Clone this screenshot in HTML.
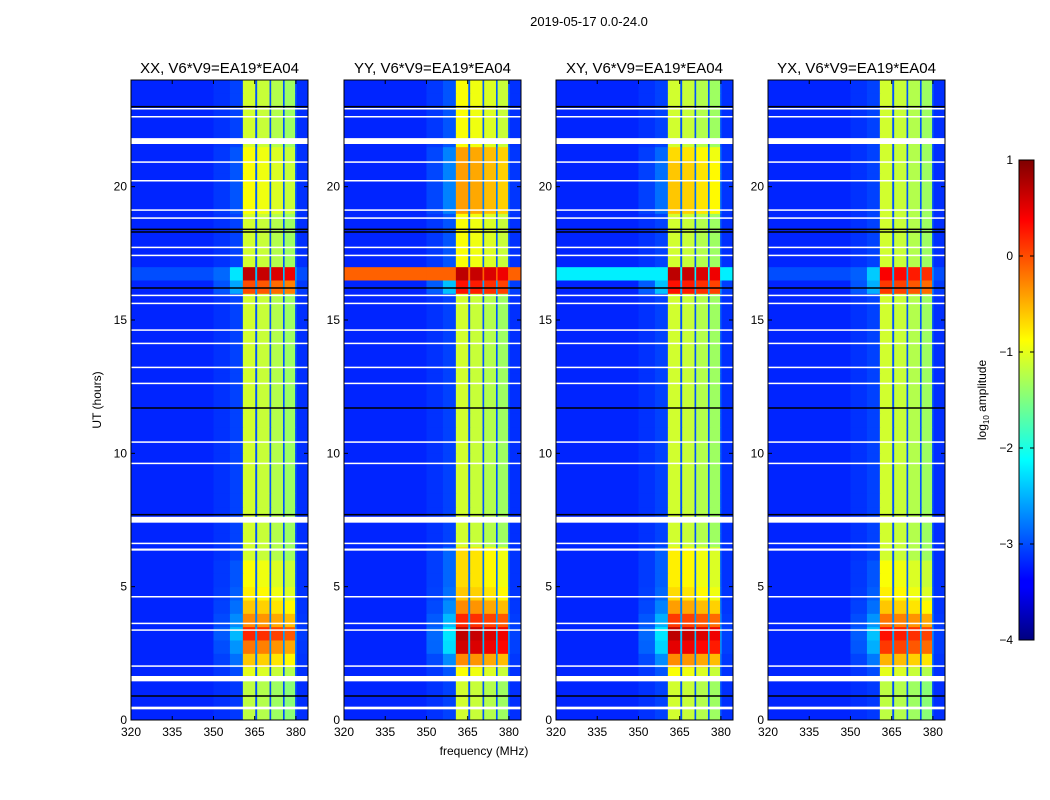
<!DOCTYPE html>
<html><head><meta charset="utf-8"><style>
body{margin:0;background:#fff;}
svg{display:block;font-family:"Liberation Sans","DejaVu Sans",sans-serif;}
</style></head><body>
<svg id="chart" width="1050" height="800" viewBox="0 0 1050 800">
<defs>
<linearGradient id="jet" x1="0" y1="1" x2="0" y2="0">
<stop offset="0" stop-color="#00007f"/><stop offset="0.11" stop-color="#0000ff"/>
<stop offset="0.125" stop-color="#0000ff"/><stop offset="0.375" stop-color="#00ffff"/>
<stop offset="0.5" stop-color="#80ff80"/><stop offset="0.625" stop-color="#ffff00"/>
<stop offset="0.875" stop-color="#ff0000"/><stop offset="1" stop-color="#7f0000"/>
</linearGradient>
</defs>
<text x="589" y="26" font-size="13" text-anchor="middle">2019-05-17 0.0-24.0</text>
<text x="484" y="755" font-size="12" text-anchor="middle">frequency (MHz)</text>
<text transform="translate(101,400) rotate(-90)" font-size="12" text-anchor="middle">UT (hours)</text>
</svg>
<script>
const panelTitles = ["XX, V6*V9=EA19*EA04","YY, V6*V9=EA19*EA04","XY, V6*V9=EA19*EA04","YX, V6*V9=EA19*EA04"];
const panelLeft = [131, 344, 556, 768];
const xTicks = [320, 335, 350, 365, 380];
const yTicks = [0, 5, 10, 15, 20];
const cbTicks = [1, 0, -1, -2, -3, -4];
// frequency segments (MHz)
const colStart = [320, 350, 356, 360.7, 365.2, 365.9, 370.4, 371.0, 375.3, 375.9, 379.7, 380.3];
const colEnd   = [350, 356, 360.7, 365.2, 365.9, 370.4, 371.0, 375.3, 375.9, 379.7, 380.3, 384.4];
const colBase  = [-3.2, -3.15, -3.1, -1.2, -3.0, -1.25, -3.0, -1.35, -3.0, -1.45, -3.0, -3.15];
const colGain  = [0, 0.15, 0.45, 1, 0.3, 1, 0.3, 1, 0.3, 1, 0.2, 0.05];
// half-hour time bins, band boost per panel
const boostXX = [0,0,0,0.2,0.6,1.0,1.4,0.9,0.6,0.4,0.3,0.3, 0.1,0.1,0.1,0.1,0.1,0.1,0.1,0.1,0.1,0.1,0.1,0.1, 0.1,0.1,0.1,0.1,0.1,0.1,0.1,0.1, 1.2,1.9,0.1,0.1,0.1,0.1,0.3,0.3,0.3,0.3,0.3,0.1,0.1,0.1,0.1,0.1];
const boostYY = [0.1,0.1,0.1,0.3,0.9,1.8,1.9,1.4,0.9,0.6,0.5,0.5, 0.5,0.1,0.1,0.1,0.1,0.1,0.1,0.1,0.1,0.1,0.1,0.1, 0.1,0.1,0.1,0.1,0.1,0.1,0.1,0.1, 1.5,1.9,0.3,0.3,0.3,0.3,0.8,0.8,0.8,0.8,0.8,0.3,0.3,0.3,0.3,0.3];
const boostXY = [0.1,0.1,0.1,0.3,0.9,1.7,1.9,1.3,0.8,0.5,0.4,0.4, 0.4,0.1,0.1,0.1,0.1,0.1,0.1,0.1,0.1,0.1,0.1,0.1, 0.1,0.1,0.1,0.1,0.1,0.1,0.1,0.1, 1.5,1.9,0.1,0.1,0.1,0.1,0.6,0.6,0.6,0.6,0.5,0.1,0.1,0.1,0.1,0.1];
const boostYX = [0,0,0,0.2,0.7,1.3,1.5,1.0,0.6,0.4,0.3,0.3, 0.1,0.1,0.1,0.1,0.1,0.1,0.1,0.1,0.1,0.1,0.1,0.1, 0.1,0.1,0.1,0.1,0.1,0.1,0.1,0.1, 1.3,1.6,0.1,0.1,0.1,0.1,0.1,0.1,0.1,0.1,0.1,0.1,0.1,0.1,0.1,0.1];
const floorRowIdx = [33, 33, 33, 33];
const floorRowVal = [-3.0, -0.1, -2.2, -3.0];
// flagged (white) times [start hour, width]
const flagStart = [0.4,1.45,2.0,3.35,3.6,4.6,6.35,6.6,7.4,9.6,10.4,12.6,13.2,14.1,14.6,15.6,15.9,17.4,17.7,18.8,19.1,20.2,20.9,21.6,22.6,22.9];
const flagWidth = [0.1,0.2,0.05,0.05,0.05,0.05,0.08,0.05,0.22,0.05,0.05,0.05,0.05,0.05,0.05,0.05,0.05,0.05,0.05,0.05,0.05,0.05,0.05,0.22,0.05,0.05];
const blackLines = [0.9, 7.7, 11.7, 16.2, 18.3, 18.4, 23.0];
const boosts = [boostXX, boostYY, boostXY, boostYX];

const NS = "http://www.w3.org/2000/svg";
const svg = document.getElementById("chart");
const W = 177, TOP = 80, BOT = 720, FMIN = 320, FMAX = 384.4, TMAX = 24;
function jet(v){
  let t = (v + 4) / 5; t = Math.max(0, Math.min(1, t));
  const c = x => Math.max(0, Math.min(1, x));
  const r = c(Math.min(4*t - 1.5, -4*t + 4.5));
  const g = c(Math.min(4*t - 0.5, -4*t + 3.5));
  const b = c(Math.min(4*t + 0.5, -4*t + 2.5));
  return `rgb(${Math.round(r*255)},${Math.round(g*255)},${Math.round(b*255)})`;
}
function mk(tag, attrs, parent){
  const e = document.createElementNS(NS, tag);
  for (const k in attrs) e.setAttribute(k, attrs[k]);
  (parent || svg).appendChild(e); return e;
}
const yS = h => BOT - (h / TMAX) * (BOT - TOP);

panelLeft.forEach((L, p) => {
  const xS = f => L + (f - FMIN) / (FMAX - FMIN) * W;
  const g = mk("g", {});
  
  
  const nb = boosts[p].length, dh = TMAX / nb;
  for (let r = 0; r < nb; r++) {
    for (let c = 0; c < colStart.length; c++) {
      let v = colBase[c] + colGain[c] * boosts[p][r];
      if (r === floorRowIdx[p]) v = Math.max(v, floorRowVal[p]);
      const x0 = xS(colStart[c]), x1 = xS(colEnd[c]);
      const y0 = yS((r + 1) * dh), y1 = yS(r * dh);
      const cell = mk("rect", {x: x0, y: y0, width: x1 - x0 + 0.5, height: y1 - y0 + 0.5, fill: jet(v)}, g);
      
      
    }
  }
  flagStart.forEach((s, i) => {
    const fl = mk("rect", {x: L, y: yS(s + flagWidth[i]), width: W, height: Math.max(1.5, yS(s) - yS(s + flagWidth[i])), fill: "#fff"}, g);
    
    
  });
  blackLines.forEach(h => {
    const bl = mk("rect", {x: L, y: yS(h) - 0.75, width: W, height: 1.5, fill: "#000"}, g);
    
    
  });
  const fr = mk("rect", {x: L, y: TOP, width: W, height: BOT - TOP, fill: "none", stroke: "#000", "stroke-width": 1}, g);
  
  
  const t = mk("text", {x: L + W/2, y: 73, "font-size": 15, "text-anchor": "middle"}, g);
  t.textContent = panelTitles[p];
  
  
  xTicks.forEach(f => {
    const x = xS(f);
    mk("line", {x1: x, x2: x, y1: BOT, y2: BOT - 4, stroke: "#000"}, g);
    mk("line", {x1: x, x2: x, y1: TOP, y2: TOP + 4, stroke: "#000"}, g);
    const tl = mk("text", {x: x, y: BOT + 16, "font-size": 12, "text-anchor": "middle"}, g);
    tl.textContent = f;
    
    
  });
  yTicks.forEach(h => {
    const y = yS(h);
    mk("line", {x1: L, x2: L + 4, y1: y, y2: y, stroke: "#000"}, g);
    mk("line", {x1: L + W, x2: L + W - 4, y1: y, y2: y, stroke: "#000"}, g);
    const tl = mk("text", {x: L - 4, y: y + 4, "font-size": 12, "text-anchor": "end"}, g);
    tl.textContent = h;
    
    
  });
});

// colorbar
const cb = mk("g", {});


mk("rect", {x: 1019, y: 160, width: 15, height: 480, fill: "url(#jet)", stroke: "#000", "stroke-width": 1}, cb);
const cbY = v => 640 - (v + 4) / 5 * 480;
cbTicks.forEach(v => {
  const y = cbY(v);
  mk("line", {x1: 1019, x2: 1023, y1: y, y2: y, stroke: "#000"}, cb);
  mk("line", {x1: 1030, x2: 1034, y1: y, y2: y, stroke: "#000"}, cb);
  const tl = mk("text", {x: 1013, y: y + 4, "font-size": 12, "text-anchor": "end"}, cb);
  tl.textContent = v < 0 ? "\u2212" + Math.abs(v) : String(v);
  
  
});
const cl = mk("text", {transform: "translate(986,400) rotate(-90)", "font-size": 12, "text-anchor": "middle"}, cb);
cl.innerHTML = 'log<tspan font-size="8" dy="3">10</tspan><tspan dy="-3"> amplitude</tspan>';


</script>
</body></html>
